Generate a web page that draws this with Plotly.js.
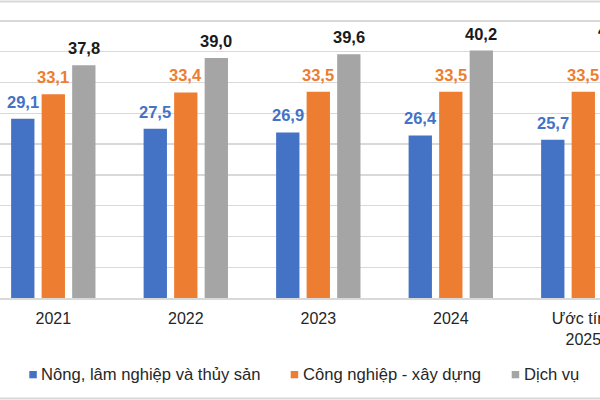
<!DOCTYPE html>
<html><head><meta charset="utf-8">
<script src="https://cdn.plot.ly/plotly-3.0.1.min.js"></script>
<style>html,body{margin:0;padding:0;background:#fff}#chart{width:600px;height:400px}</style>
</head><body><div id="chart"></div>
<script>
// ---- data ----
const categories = ['2021', '2022', '2023', '2024', 'Ước tính<br>2025'];
const seriesNames = ['Nông, lâm nghiệp và thủy sản', 'Công nghiệp - xây dựng', 'Dịch vụ'];
const agriculture = [29.1, 27.5, 26.9, 26.4, 25.7];
const industry = [33.1, 33.4, 33.5, 33.5, 33.5];
const services = [37.8, 39.0, 39.6, 40.2, 40.8];

// ---- styles ----
const seriesValues = [agriculture, industry, services];
const colors = ['#4472C4', '#ED7D31', '#A5A5A5'];
const labelColors = ['#4472C4', '#ED7D31', '#1a1a1a'];
const FONT = 'Liberation Sans, Arial, sans-serif';
const textColor = '#262626';
const gridColor = '#d9d9d9';

const W = 600, H = 400, plotBottom = 298;
const plotH = plotBottom;
const catCenter0 = 53.3, catStep = 132.5;
const xRange = [-catCenter0 / catStep, (W - catCenter0) / catStep];
const pxPerUnit = (298 - 21) / 45;
const yRange = [0, plotH / pxPerUnit];
const bargap = 0.309, bargroupgap = 0.236;
const slot = catStep * (1 - bargap) / 3;

const fmt = v => '<b>' + v.toFixed(1).replace('.', ',') + '</b>';
const px = x => x / W;
const py = y => (plotBottom - y) / plotH;

const traces = seriesValues.map((vals, i) => ({
  type: 'bar', name: seriesNames[i], x: categories, y: vals,
  marker: {color: colors[i], line: {width: 0}}, hoverinfo: 'none'
}));

const annotations = [];
seriesValues.forEach((vals, i) => {
  vals.forEach((v, k) => {
    annotations.push({
      x: k, y: v, xref: 'x', yref: 'y', text: fmt(v), showarrow: false,
      xshift: (i - 1) * slot, yshift: 17, yanchor: 'middle', xanchor: 'center',
      font: {family: FONT, size: 16.5, color: labelColors[i]}
    });
  });
});

// custom legend
const legSq = [29.3, 290.7, 511.7];
const legTx = [39, 301, 522];
const shapes = [];
legSq.forEach((x0, i) => {
  shapes.push({type: 'rect', xref: 'paper', yref: 'paper', x0: px(x0), x1: px(x0 + 7.5),
    y0: py(371), y1: py(378.3), fillcolor: colors[i], line: {width: 0}});
  annotations.push({xref: 'paper', yref: 'paper', x: px(legTx[i]), y: py(374.5),
    xanchor: 'left', yanchor: 'middle', showarrow: false, text: seriesNames[i],
    font: {family: FONT, size: 16.6, color: textColor}});
});
// chart border lines
shapes.push({type: 'line', xref: 'paper', yref: 'paper', x0: 0, x1: 1, y0: py(1.5), y1: py(1.5), line: {color: gridColor, width: 2}});
shapes.push({type: 'line', xref: 'paper', yref: 'paper', x0: 0, x1: 1, y0: py(398.5), y1: py(398.5), line: {color: gridColor, width: 2}});

const layout = {
  width: W, height: H,
  margin: {l: 0, r: 0, t: 0, b: H - plotBottom, pad: 0},
  paper_bgcolor: '#fff', plot_bgcolor: '#fff',
  barmode: 'group', bargap: bargap, bargroupgap: bargroupgap,
  showlegend: false,
  font: {family: FONT, color: textColor},
  xaxis: {type: 'category', range: xRange, showgrid: false, showline: true,
    linecolor: gridColor, linewidth: 2, ticks: '', ticklabelstandoff: 5,
    tickfont: {family: FONT, size: 16, color: textColor}, fixedrange: true},
  yaxis: {range: yRange, dtick: 5, tick0: 0, showgrid: true, gridcolor: gridColor, gridwidth: 1.3,
    zeroline: false, showticklabels: false, ticks: '', fixedrange: true},
  annotations: annotations, shapes: shapes
};

Plotly.newPlot('chart', traces, layout, {staticPlot: true, displayModeBar: false});
</script>
</body></html>
